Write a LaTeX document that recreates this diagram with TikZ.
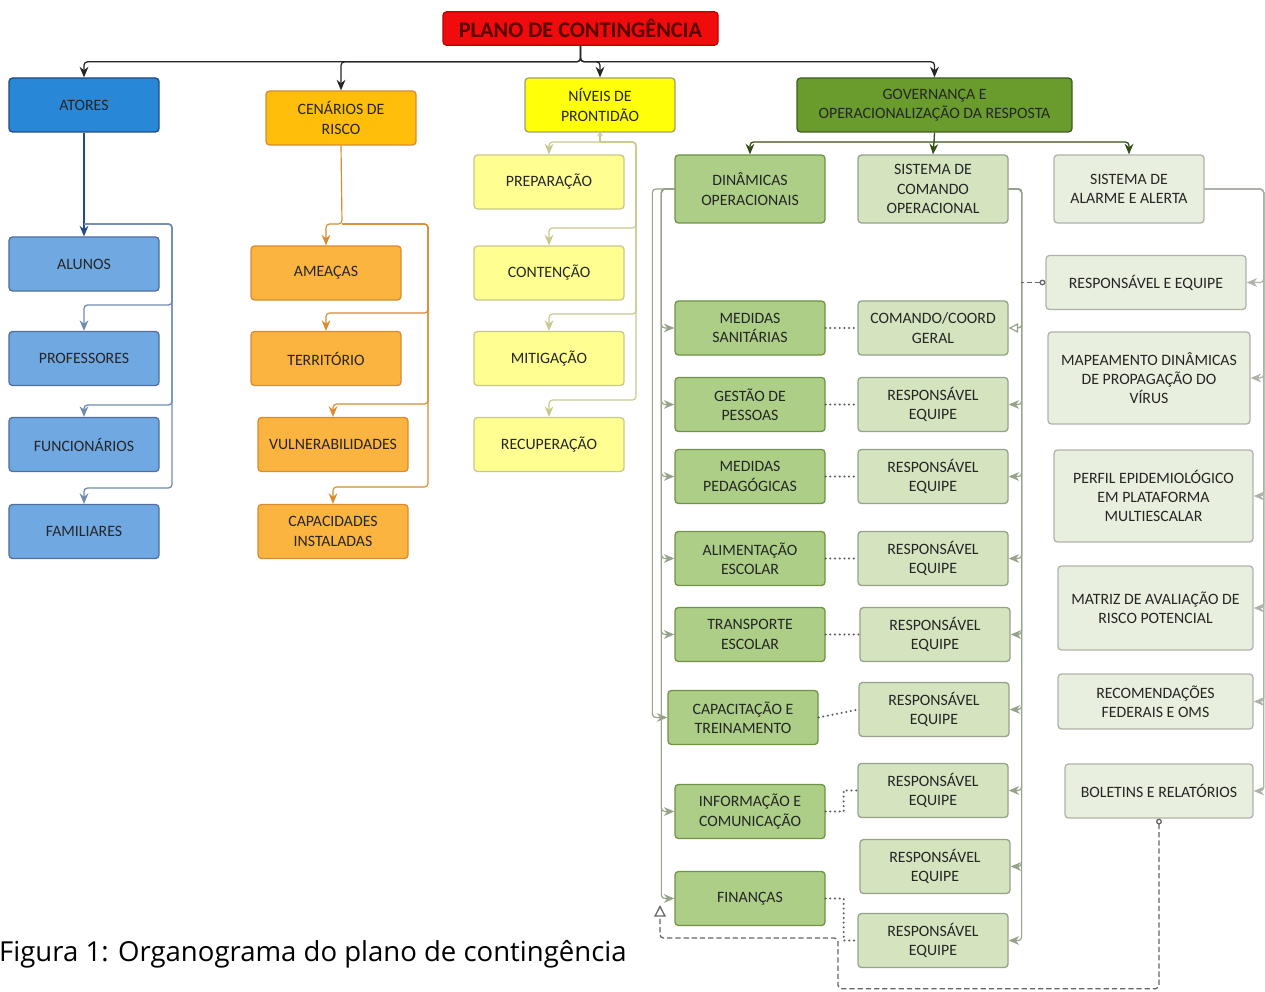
\documentclass[tikz,border=0pt]{standalone}
\usepackage{fontspec}
\setmainfont{Carlito}
\newfontfamily\legendafont{Open Sans}
\usetikzlibrary{arrows.meta}

\definecolor{vermelho}{RGB}{240,12,12}
\definecolor{azulA}{RGB}{40,135,215}
\definecolor{azulB}{RGB}{112,168,225}
\definecolor{azulL}{RGB}{35,75,135}
\definecolor{laranjaA}{RGB}{255,190,10}
\definecolor{laranjaB}{RGB}{252,180,65}
\definecolor{laranjaL}{RGB}{215,140,50}
\definecolor{amareloA}{RGB}{255,255,10}
\definecolor{amareloB}{RGB}{255,255,145}
\definecolor{amareloL}{RGB}{200,200,140}
\definecolor{verdeA}{RGB}{105,155,45}
\definecolor{verdeB}{RGB}{172,206,135}
\definecolor{verdeC}{RGB}{212,228,190}
\definecolor{verdeD}{RGB}{233,239,222}
\definecolor{verdeL}{RGB}{150,162,138}
\definecolor{cinzaL}{RGB}{175,178,170}
\definecolor{texto}{RGB}{38,38,38}

\begin{document}
\begin{tikzpicture}[x=0.03cm,y=-0.03cm,>={Stealth[length=9pt,width=7.5pt]},
    bloco/.style={rounded corners=3pt,line width=1.1pt,minimum width=4.5cm,minimum height=1.62cm,
      align=center,text=texto,inner sep=1pt,font=\fontsize{13.5}{16.5}\selectfont},
    azul/.style={bloco,fill=azulA,draw=azulL},
    azulclaro/.style={bloco,fill=azulB,draw=azulL!80},
    laranja/.style={bloco,fill=laranjaA,draw=laranjaL},
    laranjaclaro/.style={bloco,fill=laranjaB,draw=laranjaL},
    amarelo/.style={bloco,fill=amareloA,draw=amareloL!80!black},
    amareloclaro/.style={bloco,fill=amareloB,draw=amareloL},
    verdeforte/.style={bloco,fill=verdeA,draw=verdeA!60!black,minimum width=8.25cm},
    verdemedio/.style={bloco,fill=verdeB,draw=verdeA!70!gray},
    verdeclaro/.style={bloco,fill=verdeC,draw=verdeL},
    verdepalido/.style={bloco,fill=verdeD,draw=cinzaL},
    ligpreta/.style={line width=1.1pt,rounded corners=3pt,black!85},
    ligazul/.style={line width=1.1pt,rounded corners=3pt,azulL},
    ligazulclara/.style={ligazul,azulL!65},
    liglaranja/.style={line width=1pt,rounded corners=3pt,laranjaL},
    ligamarela/.style={line width=1pt,rounded corners=3pt,amareloL},
    ligverde/.style={line width=1.1pt,rounded corners=3pt,verdeA!50!black},
    ligcinza/.style={line width=1pt,rounded corners=3pt,verdeL},
    ligcinzaclara/.style={ligcinza,cinzaL},
    pontilhada/.style={line width=1.9pt,line cap=round,dash pattern=on 0pt off 4pt,black!65},
    tracejada/.style={line width=1.1pt,dash pattern=on 4.5pt off 2.5pt,rounded corners=3pt,black!60}]

    \useasboundingbox (0,0) rectangle (1265,992);

    % topo
    \node[bloco,fill=vermelho,draw=red!75!black,minimum width=8.25cm,minimum height=1cm,
      text=red!35!black,font=\bfseries\fontsize{19}{21}\selectfont] (titulo) at (580.5,28.5) {PLANO DE CONTINGÊNCIA};

    \node[azul] (atores) at (84,105) {ATORES};
    \node[laranja] (cenarios) at (341,118) {CENÁRIOS DE\\RISCO};
    \node[amarelo] (niveis) at (600,105) {NÍVEIS DE\\PRONTIDÃO};
    \node[verdeforte] (governanca) at (934.5,105) {GOVERNANÇA E\\OPERACIONALIZAÇÃO DA RESPOSTA};

    \draw[ligpreta,->] (titulo.south) -- ++(0,16) -| (atores.north);
    \draw[ligpreta,->] (titulo.south) -- ++(0,16) -| (cenarios.north);
    \draw[ligpreta,->] (titulo.south) -- ++(0,16) -| (niveis.north);
    \draw[ligpreta,->] (titulo.south) -- ++(0,16) -| (governanca.north);

    % atores
    \node[azulclaro] (alunos) at (84,264) {ALUNOS};
    \node[azulclaro] (professores) at (84,358.5) {PROFESSORES};
    \node[azulclaro] (funcionarios) at (84,444.5) {FUNCIONÁRIOS};
    \node[azulclaro] (familiares) at (84,531.5) {FAMILIARES};

    \coordinate (aJ) at (84,224);
    \draw[ligazul,->] (atores.south) -- (alunos.north);
    \draw[ligazulclara,->] (aJ) -| ++(88,81) -| (professores.north);
    \draw[ligazulclara,->] (aJ) -| ++(88,181) -| (funcionarios.north);
    \draw[ligazulclara,->] (aJ) -| ++(88,264) -| (familiares.north);

    % cenarios
    \node[laranjaclaro] (ameacas) at (326,273) {AMEAÇAS};
    \node[laranjaclaro] (territorio) at (326,358.5) {TERRITÓRIO};
    \node[laranjaclaro] (vulnerab) at (333,444.5) {VULNERABILIDADES};
    \node[laranjaclaro] (capacidades) at (333,531.5) {CAPACIDADES\\INSTALADAS};

    \coordinate (cJ) at (342,224);
    \draw[liglaranja,->] (cenarios.south) -- (cJ) -| (ameacas.north);
    \draw[liglaranja,->] (cJ) -| ++(86,89) -| (territorio.north);
    \draw[liglaranja,->] (cJ) -| ++(86,180) -| (vulnerab.north);
    \draw[liglaranja,->] (cJ) -| ++(86,263) -| (capacidades.north);

    % niveis
    \node[amareloclaro] (preparacao) at (549,182) {PREPARAÇÃO};
    \node[amareloclaro] (contencao) at (549,273) {CONTENÇÃO};
    \node[amareloclaro] (mitigacao) at (549,358.5) {MITIGAÇÃO};
    \node[amareloclaro] (recuperacao) at (549,444.5) {RECUPERAÇÃO};

    \coordinate (nJ) at (600,142);
    \draw[ligamarela,{Circle[open,length=4pt]}-] (niveis.south) -- (nJ);
    \draw[ligamarela,->] (nJ) -| (preparacao.north);
    \draw[ligamarela,->] (nJ) -| ++(36,86) -| (contencao.north);
    \draw[ligamarela,->] (nJ) -| ++(36,172) -| (mitigacao.north);
    \draw[ligamarela,->] (nJ) -| ++(36,258) -| (recuperacao.north);

    % governanca
    \node[verdemedio,minimum height=2.04cm] (dinamicas) at (750,189) {DINÂMICAS\\OPERACIONAIS};
    \node[verdeclaro,minimum height=2.04cm] (sistcomando) at (933,189) {SISTEMA DE\\COMANDO\\OPERACIONAL};
    \node[verdepalido,minimum height=2.04cm] (alarme) at (1129,189) {SISTEMA DE\\ALARME E ALERTA};

    \coordinate (gJ) at (934,142);
    \draw[ligverde] (governanca.south) -- (gJ);
    \draw[ligverde,->] (gJ) -| (dinamicas.north);
    \draw[ligverde,->] (gJ) -- (sistcomando.north);
    \draw[ligverde,->] (gJ) -| (alarme.north);

    % dinamicas operacionais
    \node[verdemedio] (medsanit) at (750,328) {MEDIDAS\\SANITÁRIAS};
    \node[verdemedio] (gestao) at (750,404.5) {GESTÃO DE\\PESSOAS};
    \node[verdemedio] (medpedag) at (750,476.5) {MEDIDAS\\PEDAGÓGICAS};
    \node[verdemedio] (alimentacao) at (750,558.5) {ALIMENTAÇÃO\\ESCOLAR};
    \node[verdemedio] (transporte) at (750,634.5) {TRANSPORTE\\ESCOLAR};
    \node[verdemedio] (capacitacao) at (743,717.5) {CAPACITAÇÃO E\\TREINAMENTO};
    \node[verdemedio] (informacao) at (750,811.5) {INFORMAÇÃO E\\COMUNICAÇÃO};
    \node[verdemedio] (financas) at (750,898.5) {FINANÇAS};

    \draw[ligcinza,->] (dinamicas.west) -- ++(-22,0) |- (capacitacao.west);
    \draw[ligcinza,->] (dinamicas.west) -- ++(-13,0) |- (medsanit.west);
    \draw[ligcinza,->] (dinamicas.west) -- ++(-13,0) |- (gestao.west);
    \draw[ligcinza,->] (dinamicas.west) -- ++(-13,0) |- (medpedag.west);
    \draw[ligcinza,->] (dinamicas.west) -- ++(-13,0) |- (alimentacao.west);
    \draw[ligcinza,->] (dinamicas.west) -- ++(-13,0) |- (transporte.west);
    \draw[ligcinza,->] (dinamicas.west) -- ++(-13,0) |- (informacao.west);
    \draw[ligcinza,->] (dinamicas.west) -- ++(-13,0) |- (financas.west);

    % sistema de comando
    \node[verdeclaro] (comando) at (933,328) {COMANDO/COORD\\GERAL};
    \node[verdeclaro] (resp2) at (933,404.5) {RESPONSÁVEL\\EQUIPE};
    \node[verdeclaro] (resp3) at (933,476.5) {RESPONSÁVEL\\EQUIPE};
    \node[verdeclaro] (resp4) at (933,558.5) {RESPONSÁVEL\\EQUIPE};
    \node[verdeclaro] (resp5) at (935,634.5) {RESPONSÁVEL\\EQUIPE};
    \node[verdeclaro] (resp6) at (934,709.5) {RESPONSÁVEL\\EQUIPE};
    \node[verdeclaro] (resp7) at (933,790.5) {RESPONSÁVEL\\EQUIPE};
    \node[verdeclaro] (resp8) at (935,866.5) {RESPONSÁVEL\\EQUIPE};
    \node[verdeclaro] (resp9) at (933,940.5) {RESPONSÁVEL\\EQUIPE};

    \draw[ligcinza,-{Triangle[open,length=8pt,width=8pt]}] (sistcomando.east) -- ++(13,0) |- (comando.east);
    \draw[ligcinza,->] (sistcomando.east) -- ++(13,0) |- (resp2.east);
    \draw[ligcinza,->] (sistcomando.east) -- ++(13,0) |- (resp3.east);
    \draw[ligcinza,->] (sistcomando.east) -- ++(13,0) |- (resp4.east);
    \draw[ligcinza,->] (sistcomando.east) -- ++(13,0) |- (resp5.east);
    \draw[ligcinza,->] (sistcomando.east) -- ++(13,0) |- (resp6.east);
    \draw[ligcinza,->] (sistcomando.east) -- ++(13,0) |- (resp7.east);
    \draw[ligcinza,->] (sistcomando.east) -- ++(13,0) |- (resp8.east);
    \draw[ligcinza,->] (sistcomando.east) -- ++(13,0) |- (resp9.east);

    \draw[pontilhada] (medsanit.east) -- (comando.west);
    \draw[pontilhada] (gestao.east) -- (resp2.west);
    \draw[pontilhada] (medpedag.east) -- (resp3.west);
    \draw[pontilhada] (alimentacao.east) -- (resp4.west);
    \draw[pontilhada] (transporte.east) -- (resp5.west);
    \draw[pontilhada] (capacitacao.east) -- (resp6.west);
    \draw[pontilhada] (informacao.east) -- ++(18,0) |- (resp7.west);
    \draw[pontilhada] (financas.east) -- ++(18,0) |- (resp9.west);

    % sistema de alarme
    \node[verdepalido,minimum width=6cm] (respequipe) at (1146,282.5) {RESPONSÁVEL E EQUIPE};
    \node[verdepalido,minimum width=6.06cm,minimum height=2.76cm] (mapeamento) at (1149,378) {MAPEAMENTO DINÂMICAS\\DE PROPAGAÇÃO DO\\VÍRUS};
    \node[verdepalido,minimum width=5.97cm,minimum height=2.76cm] (perfil) at (1153.5,496) {PERFIL EPIDEMIOLÓGICO\\EM PLATAFORMA\\MULTIESCALAR};
    \node[verdepalido,minimum width=5.85cm,minimum height=2.52cm] (matriz) at (1155.5,608) {MATRIZ DE AVALIAÇÃO DE\\RISCO POTENCIAL};
    \node[verdepalido,minimum width=5.85cm,minimum height=1.65cm] (recomend) at (1155.5,701.5) {RECOMENDAÇÕES\\FEDERAIS E OMS};
    \node[verdepalido,minimum width=5.64cm] (boletins) at (1159,791) {BOLETINS E RELATÓRIOS};

    \draw[ligcinzaclara,->] (alarme.east) -- ++(59,0) |- (respequipe.east);
    \draw[ligcinzaclara,->] (alarme.east) -- ++(59,0) |- (mapeamento.east);
    \draw[ligcinzaclara,->] (alarme.east) -- ++(59,0) |- (perfil.east);
    \draw[ligcinzaclara,->] (alarme.east) -- ++(59,0) |- (matriz.east);
    \draw[ligcinzaclara,->] (alarme.east) -- ++(59,0) |- (recomend.east);
    \draw[ligcinzaclara,->] (alarme.east) -- ++(59,0) |- (boletins.east);

    \coordinate (sV) at (1021,282.5);
    \coordinate (fT) at (660,905);
    \draw[tracejada,{Circle[open,length=5pt]}-] (respequipe.west) -- (sV);
    \draw[tracejada,{Circle[open,length=5pt]}-{Triangle[open,length=10pt,width=10pt]}] (boletins.south) -- ++(0,170) -| (838,938) -| (fT);

    % legenda
    \node[anchor=base west,inner sep=0pt,font=\legendafont\fontsize{23.5}{26}\selectfont,text=black] (legenda) at (-1,961) {Figura 1: Organograma do plano de contingência};
\end{tikzpicture}
\end{document}
